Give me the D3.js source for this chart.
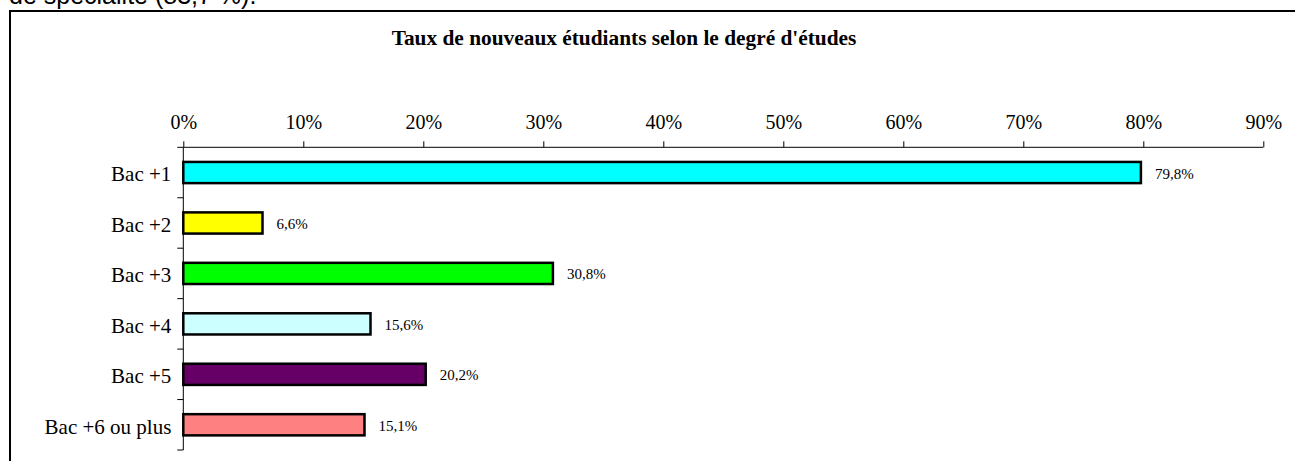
<!DOCTYPE html>
<html>
<head>
<meta charset="utf-8">
<script src="https://cdn.jsdelivr.net/npm/d3@7"></script>
<style>
  html, body { margin: 0; padding: 0; background: #fff; }
  svg { display: block; }
</style>
</head>
<body>
<script>
const categories = ["Bac +1", "Bac +2", "Bac +3", "Bac +4", "Bac +5", "Bac +6 ou plus"];
const values = [79.8, 6.6, 30.8, 15.6, 20.2, 15.1];
const valueLabels = ["79,8%", "6,6%", "30,8%", "15,6%", "20,2%", "15,1%"];
const colors = ["#00FFFF", "#FFFF00", "#00FF00", "#CCFFFF", "#660066", "#FF8080"];
const xTicks = [0, 10, 20, 30, 40, 50, 60, 70, 80, 90];
const title = "Taux de nouveaux étudiants selon le degré d'études";
const introText = "de spécialité (83,7 %).";

const W = 1295, H = 461;
const svg = d3.select("body").append("svg").attr("width", W).attr("height", H);

// cut-off paragraph text above the chart
svg.append("text").attr("x", 9).attr("y", 4)
  .style("font-family", "Arial, 'Liberation Sans', sans-serif")
  .style("font-size", "25px").attr("fill", "#000").text(introText);

// chart frame
svg.append("rect").attr("x", 10).attr("y", 11).attr("width", 1300).attr("height", 470)
  .attr("fill", "none").attr("stroke", "#000").attr("stroke-width", 2);

// title fitted to reference width
const t = svg.append("text").attr("x", 624).attr("y", 45).attr("text-anchor", "middle")
  .style("font-family", "'Liberation Serif', 'Times New Roman', serif")
  .style("font-weight", "bold").style("font-size", "100px").text(title);
const tw = t.node().getComputedTextLength();
t.style("font-size", (100 * 465 / tw) + "px");

const x = d3.scaleLinear().domain([0, 90]).range([183.3, 1263.3]);
const y = d3.scaleBand().domain(categories).range([147.3, 450])
  .paddingInner(0.58).paddingOuter(0.29);

// top axis
const gx = svg.append("g").attr("transform", "translate(0,147.3)")
  .call(d3.axisTop(x).tickValues(xTicks).tickFormat(d => d + "%").tickSize(6).tickSizeOuter(0));
gx.select(".domain").attr("stroke", "#000").attr("d", `M${x(0)},0H${x(90)}`);
gx.selectAll(".tick line").attr("stroke", "#000");
gx.selectAll(".tick text").attr("dy", 0).attr("y", -18)
  .style("font-family", "'Liberation Serif', 'Times New Roman', serif")
  .style("font-size", "20px").attr("fill", "#000");

// left axis
const gy = svg.append("g").attr("transform", `translate(${x(0)},0)`)
  .call(d3.axisLeft(y).tickSize(0).tickPadding(12));
gy.select(".domain").attr("stroke", "#000").attr("d", `M0,${y.range()[0]}V${y.range()[1]}`);
gy.selectAll(".tick text").attr("dy", "0.42em")
  .style("font-family", "'Liberation Serif', 'Times New Roman', serif")
  .style("font-size", "21px").attr("fill", "#000");
// boundary ticks
const bounds = d3.range(categories.length + 1).map(i => y.range()[0] + i * y.step());
gy.selectAll(".btick").data(bounds).join("line").attr("class", "btick")
  .attr("x1", -6).attr("x2", 0).attr("y1", d => d).attr("y2", d => d).attr("stroke", "#000");

// bars
svg.append("g").selectAll("rect").data(categories).join("rect")
  .attr("x", x(0)).attr("y", d => y(d))
  .attr("width", (d, i) => x(values[i]) - x(0)).attr("height", y.bandwidth())
  .attr("fill", (d, i) => colors[i]).attr("stroke", "#000").attr("stroke-width", 2.5);

// value labels
svg.append("g").selectAll("text").data(categories).join("text")
  .attr("x", (d, i) => x(values[i]) + 14)
  .attr("y", d => y(d) + y.bandwidth() / 2 + 6)
  .style("font-family", "'Liberation Serif', 'Times New Roman', serif")
  .style("font-size", "15px").attr("fill", "#000")
  .text((d, i) => valueLabels[i]);
</script>
</body>
</html>
